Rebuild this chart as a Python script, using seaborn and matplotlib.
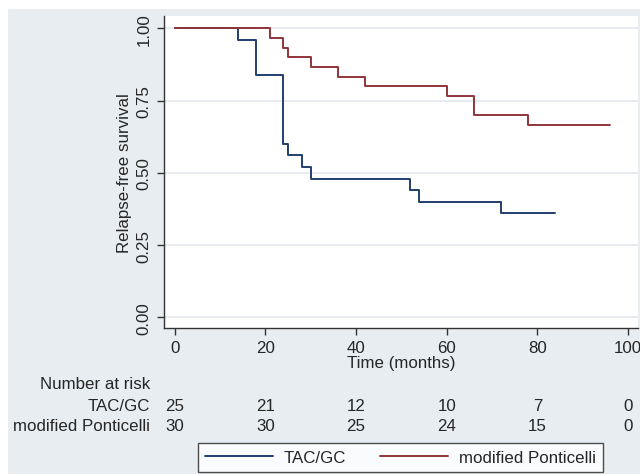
import pandas as pd
import numpy as np
import seaborn as sns
import matplotlib.pyplot as plt
from matplotlib.patches import Rectangle
from matplotlib.transforms import blended_transform_factory

# Kaplan-Meier step points
tac_time = [0, 14, 18, 24, 25, 28, 30, 52, 54, 72, 84]
tac_surv = [1.0, 0.96, 0.84, 0.60, 0.56, 0.52, 0.48, 0.44, 0.40, 0.36, 0.36]

pont_time = [0, 21, 24, 25, 30, 36, 42, 60, 66, 78, 96]
pont_surv = [1.0, 0.967, 0.933, 0.90, 0.867, 0.833, 0.80, 0.767, 0.70, 0.667, 0.667]

groups = ["TAC/GC", "modified Ponticelli"]
colors = ["#213f6e", "#90353b"]

# number at risk table
risk_times = [0, 20, 40, 60, 80, 100]
risk_tac = [25, 21, 12, 10, 7, 0]
risk_pont = [30, 30, 25, 24, 15, 0]

x_ticks = [0, 20, 40, 60, 80, 100]
y_ticks = [0.0, 0.25, 0.5, 0.75, 1.0]

W, H = 640, 477
bg = "#e8edf1"
fs = 12.2

sns.set_style("white")
plt.rcParams["font.family"] = ["Liberation Sans", "DejaVu Sans"]
plt.rcParams["font.size"] = fs

df = pd.concat([
    pd.DataFrame({"time": tac_time, "surv": tac_surv, "group": groups[0]}),
    pd.DataFrame({"time": pont_time, "surv": pont_surv, "group": groups[1]}),
])

fig = plt.figure(figsize=(W / 100, H / 100), dpi=100)
fig.patch.set_facecolor("white")
fig.patches.append(Rectangle((8 / W, 1 - 475 / H), 1, (475 - 10) / H,
                             transform=fig.transFigure, facecolor=bg,
                             edgecolor="none", zorder=-10))

ax = fig.add_axes([164 / W, 1 - 328.7 / H, (638 - 164) / W, (328.7 - 17.3) / H])
ax.set_facecolor("white")

sns.lineplot(data=df, x="time", y="surv", hue="group", palette=colors,
             hue_order=groups, estimator=None, sort=False,
             drawstyle="steps-post", linewidth=1.4, ax=ax)

handles, labels = ax.get_legend_handles_labels()
ax.get_legend().remove()

ax.set_xlim(-2.36, 102.2)
ax.set_ylim(-0.036, 1.0415)
ax.set_xticks(x_ticks)
ax.set_yticks(y_ticks)
ax.set_yticklabels([f"{v:.2f}" for v in y_ticks], rotation=90, va="center")
ax.yaxis.grid(True, color="#e6ebf0", linewidth=1.3)
ax.set_axisbelow(True)
ax.tick_params(axis="both", direction="out", length=5, width=1, color="#333333",
               pad=4, labelsize=fs, left=True, bottom=True)
for s in ["top", "right"]:
    ax.spines[s].set_visible(False)
for s in ["left", "bottom"]:
    ax.spines[s].set_color("#333333")
    ax.spines[s].set_linewidth(1)

ax.set_xlabel("Time (months)", fontsize=fs, labelpad=0)
ax.set_ylabel("Relapse-free survival", fontsize=fs, labelpad=3)

# number at risk rows
tr = blended_transform_factory(ax.transData, fig.transFigure)
label_x = 150 / W
fig.text(label_x, 1 - 385 / H, "Number at risk", ha="right", va="center", fontsize=fs)
fig.text(label_x, 1 - 407 / H, groups[0], ha="right", va="center", fontsize=fs)
fig.text(label_x, 1 - 426.5 / H, groups[1], ha="right", va="center", fontsize=fs)
for t, a, b in zip(risk_times, risk_tac, risk_pont):
    ax.text(t, 1 - 407 / H, str(a), transform=tr, ha="center", va="center",
            fontsize=fs, clip_on=False)
    ax.text(t, 1 - 426.5 / H, str(b), transform=tr, ha="center", va="center",
            fontsize=fs, clip_on=False)

leg = fig.legend(handles, labels, ncol=2, loc="center",
                 bbox_to_anchor=(400.5 / W, 1 - 458.5 / H),
                 frameon=True, fancybox=False, edgecolor="#222222",
                 handlelength=4.0, handletextpad=0.65, columnspacing=2.0,
                 borderpad=0.42, fontsize=fs)
leg.get_frame().set_linewidth(1)
leg.get_frame().set_facecolor("white")

fig.savefig("out.png", dpi=100, facecolor=fig.get_facecolor())
